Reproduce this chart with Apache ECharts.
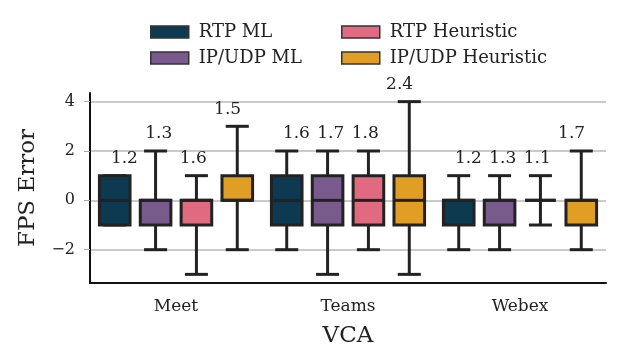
<!DOCTYPE html>
<html>
<head>
<meta charset="utf-8">
<script src="https://cdn.jsdelivr.net/npm/echarts@6/dist/echarts.min.js"></script>
<style>html,body{margin:0;padding:0;background:#fff;}#chart{width:622px;height:364px;}</style>
</head>
<body>
<div id="chart"></div>
<script>
// ---- data ----
const categories = ['Meet', 'Teams', 'Webex'];
const seriesNames = ['RTP ML', 'IP/UDP ML', 'RTP Heuristic', 'IP/UDP Heuristic'];
// each row: [min, q1, median, q3, max] per category
const rtpML        = [[-1, -1, 0, 1, 1], [-2, -1, 0, 1, 2], [-2, -1, 0, 0, 1]];
const ipudpML      = [[-2, -1, 0, 0, 2], [-3, -1, 0, 1, 2], [-2, -1, 0, 0, 1]];
const rtpHeur      = [[-3, -1, 0, 0, 1], [-2, -1, 0, 1, 2], [-1, 0, 0, 0, 1]];
const ipudpHeur    = [[-2, 0, 0, 1, 3], [-3, -1, 0, 1, 4], [-2, -1, 0, 0, 2]];
// value labels (MAE) shown above each box
const rtpMLLabels     = ['1.2', '1.6', '1.2'];
const ipudpMLLabels   = ['1.3', '1.7', '1.3'];
const rtpHeurLabels   = ['1.6', '1.8', '1.1'];
const ipudpHeurLabels = ['1.5', '2.4', '1.7'];
const yTicks = [-2, 0, 2, 4];

const colors = ['#0e3a51', '#785a8d', '#e06a80', '#e19e24'];
const boxData = [rtpML, ipudpML, rtpHeur, ipudpHeur];
const labelData = [rtpMLLabels, ipudpMLLabels, rtpHeurLabels, ipudpHeurLabels];

const FONT = '"DejaVu Serif", serif';
const INK = '#222222';
const BOX_SLOT = 0.2375;   // spacing of boxes within a category (fraction of band)
const BOX_W = 0.178;       // box width (fraction of band)
const CAP_W = 0.134;       // whisker cap width
const LABEL_SLOT = 0.2;    // spacing of text labels

function makeRender(h) {
  return function (params, api) {
    const ci = api.value(0);
    const band = api.size([1, 0])[0];
    const c = api.coord([ci, 0]);
    const cx = c[0] + (h - 1.5) * BOX_SLOT * band;
    const lx = c[0] + (h - 1.5) * LABEL_SLOT * band;
    const yMin = api.coord([ci, api.value(1)])[1];
    const yQ1 = api.coord([ci, api.value(2)])[1];
    const yMed = api.coord([ci, api.value(3)])[1];
    const yQ3 = api.coord([ci, api.value(4)])[1];
    const yMax = api.coord([ci, api.value(5)])[1];
    const bw = BOX_W * band, cw = CAP_W * band;
    const ls = { stroke: INK, lineWidth: 3, lineCap: 'butt' };
    return {
      type: 'group',
      children: [
        { type: 'line', shape: { x1: cx, y1: yQ1, x2: cx, y2: yMin }, style: ls },
        { type: 'line', shape: { x1: cx, y1: yQ3, x2: cx, y2: yMax }, style: ls },
        { type: 'line', shape: { x1: cx - cw / 2, y1: yMin, x2: cx + cw / 2, y2: yMin }, style: ls },
        { type: 'line', shape: { x1: cx - cw / 2, y1: yMax, x2: cx + cw / 2, y2: yMax }, style: ls },
        { type: 'rect', shape: { x: cx - bw / 2, y: yQ3, width: bw, height: yQ1 - yQ3 },
          style: { fill: colors[h], stroke: INK, lineWidth: 3 } },
        { type: 'line', shape: { x1: cx - bw / 2, y1: yMed, x2: cx + bw / 2, y2: yMed }, style: ls },
        { type: 'text', x: lx, y: yMax - 17,
          style: { text: labelData[h][ci], fill: INK, font: '17px ' + FONT, align: 'center', verticalAlign: 'middle' } }
      ]
    };
  };
}

const series = seriesNames.map(function (name, h) {
  return {
    name: name,
    type: 'custom',
    renderItem: makeRender(h),
    itemStyle: { color: colors[h] },
    encode: { x: 0, y: [1, 2, 3, 4, 5] },
    data: boxData[h].map(function (r, i) { return [i].concat(r); }),
    z: 5
  };
});

const legendBase = {
  orient: 'vertical',
  icon: 'rect',
  itemWidth: 38,
  itemHeight: 12,
  itemGap: 8,
  selectedMode: false,
  textStyle: { fontFamily: FONT, fontSize: 18, color: INK, padding: [0, 0, 0, 5] },
  top: 18
};
function legendItems(idx) {
  return idx.map(function (i) {
    return { name: seriesNames[i], itemStyle: { color: colors[i], borderColor: '#333', borderWidth: 1.5 } };
  });
}

const option = {
  animation: false,
  backgroundColor: '#ffffff',
  legend: [
    Object.assign({}, legendBase, { left: 145, data: legendItems([0, 1]) }),
    Object.assign({}, legendBase, { left: 336, data: legendItems([2, 3]) })
  ],
  grid: { left: 90, right: 16, top: 93, bottom: 81 },
  xAxis: {
    type: 'category',
    data: categories,
    boundaryGap: true,
    name: 'VCA',
    nameLocation: 'middle',
    nameGap: 42,
    nameTextStyle: { fontFamily: FONT, fontSize: 23, color: INK },
    axisLine: { onZero: false, lineStyle: { color: '#111', width: 2 } },
    axisTick: { alignWithLabel: true, length: 6, lineStyle: { color: '#aaa', width: 1 } },
    axisLabel: { fontFamily: FONT, fontSize: 17, color: INK, margin: 15 },
    splitLine: { show: false }
  },
  yAxis: {
    type: 'value',
    min: -3.35,
    max: 4.35,
    name: 'FPS Error',
    nameLocation: 'middle',
    nameGap: 50,
    nameTextStyle: { fontFamily: FONT, fontSize: 23, color: INK },
    axisLine: { show: true, lineStyle: { color: '#111', width: 2 } },
    axisTick: { show: true, length: 6, customValues: yTicks, lineStyle: { color: '#aaa', width: 1 } },
    axisLabel: { fontFamily: FONT, fontSize: 16, color: INK, margin: 15, customValues: yTicks,
      formatter: function (v) { return v < 0 ? '\u2212' + Math.abs(v) : String(v); } },
    splitLine: { show: true, lineStyle: { color: '#b8b8b8', width: 1.5 } }
  },
  series: series
};

const chart = echarts.init(document.getElementById('chart'), null, { renderer: 'canvas' });
chart.setOption(option);
</script>
</body>
</html>
